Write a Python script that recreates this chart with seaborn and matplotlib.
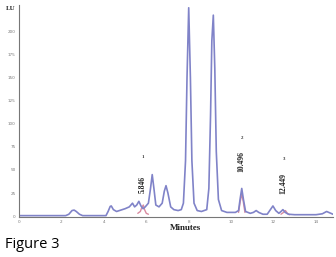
import matplotlib
matplotlib.use('Agg')
import matplotlib.pyplot as plt
import numpy as np
import pandas as pd
import seaborn as sns

# blue trace (sample)
blue_t = [0.0, 0.5, 1.0, 1.5, 2.0, 2.2, 2.35, 2.5, 2.6, 2.7, 2.85, 3.0, 3.5, 4.1,
          4.2, 4.3, 4.35, 4.45, 4.6, 4.8, 5.0, 5.2, 5.35, 5.45, 5.55, 5.65, 5.75,
          5.85, 5.95, 6.1, 6.2, 6.28, 6.36, 6.45, 6.6, 6.75, 6.85, 6.93, 7.02,
          7.15, 7.3, 7.5, 7.65, 7.75, 7.85, 7.92, 8.0, 8.08, 8.15, 8.25, 8.4, 8.6,
          8.85, 8.95, 9.03, 9.09, 9.16, 9.23, 9.3, 9.4, 9.55, 9.8, 10.2, 10.35,
          10.42, 10.5, 10.58, 10.68, 10.9, 11.05, 11.18, 11.3, 11.5, 11.7, 11.85,
          11.97, 12.1, 12.25, 12.35, 12.44, 12.55, 12.7, 13.0, 13.5, 14.0, 14.3,
          14.5, 14.7, 14.8]
blue_y = [0.5, 0.5, 0.5, 0.5, 0.5, 0.5, 2, 6, 6.5, 5, 2, 0.5, 0.5, 0.5,
          5, 10.5, 11, 7, 5, 6.5, 8, 10, 14, 10, 12, 16, 11,
          8, 10, 14, 30, 45, 30, 12, 10, 14, 27, 33, 25,
          10, 7, 6, 7, 14, 60, 150, 226, 150, 60, 14, 6, 5,
          7, 30, 110, 190, 218, 160, 70, 18, 6, 4, 4, 6,
          18, 30, 18, 5, 3, 4, 6, 4, 2, 2, 7,
          11, 6, 3, 5, 7, 4, 2, 1.5, 1.5, 1.5, 2.5,
          5, 3, 2]

# red trace (standard), only where it shows
red_seg = [1, 1, 1, 1, 1, 1, 1, 2, 2, 2, 2, 2, 3, 3, 3, 3, 3]
red_t = [5.6, 5.72, 5.8, 5.86, 5.92, 6.0, 6.1, 10.35, 10.43, 10.5, 10.57,
         10.65, 12.35, 12.47, 12.56, 12.65, 12.75]
red_y = [3, 5, 10, 12, 7, 3, 2, 4, 16, 24, 16, 4, 2, 4, 6, 3, 1.5]

y_ticks = [0, 25, 50, 75, 100, 125, 150, 175, 200]
x_ticks = [0, 2, 4, 6, 8, 10, 12, 14]

peak_ids = ['1', '2', '3']
peak_rt = ['5.846', '10.496', '12.449']
peak_x = [5.85, 10.5, 12.47]
id_y = [64, 85, 62]
rt_y = [34, 59, 35]

sns.set_style('white')
fig = plt.figure(figsize=(3.36, 2.57), dpi=100)
ax = fig.add_axes([0.0565, 0.1556, 0.9345, 0.825])

blue = pd.DataFrame({'t': blue_t, 'y': blue_y})
red = pd.DataFrame({'t': red_t, 'y': red_y, 'seg': red_seg})
sns.lineplot(data=red, x='t', y='y', units='seg', estimator=None, ax=ax,
             color='#d98aa0', lw=1.0, sort=False)
sns.lineplot(data=blue, x='t', y='y', ax=ax, color='#8083c8', lw=1.2, sort=False)

ax.set_xlim(0, 14.8)
ax.set_ylim(-1, 229)
ax.set_xticks(x_ticks)
ax.set_yticks(y_ticks)
ax.set_xticks(np.arange(0, 14.81, 0.4), minor=True)
ax.set_yticks(np.arange(0, 229, 5), minor=True)
ax.tick_params(axis='both', which='major', labelsize=3, colors='#777777',
               direction='inout', length=3, width=0.6, pad=1)
ax.tick_params(axis='both', which='minor', colors='#777777',
               direction='inout', length=2, width=0.5)
for s in ['top', 'right']:
    ax.spines[s].set_visible(False)
for s in ['left', 'bottom']:
    ax.spines[s].set_color('#777777')
    ax.spines[s].set_linewidth(0.8)
ax.set_xlabel('')
ax.set_ylabel('')

serif = ['Liberation Serif', 'DejaVu Serif']
for x, pid, rt, yi, yr in zip(peak_x, peak_ids, peak_rt, id_y, rt_y):
    ax.text(x, yi, pid, fontsize=3.5, fontweight='bold', family=serif,
            ha='center', va='center', color='#333333')
    ax.text(x, yr, rt, fontsize=5.5, fontweight='bold', family=serif,
            ha='center', va='center', rotation=90, color='#222222')

fig.text(185 / 336, 1 - 228 / 257, 'Minutes', fontsize=6.5, fontweight='bold',
         family=serif, ha='center', va='center', color='#222222')
fig.text(11 / 336, 1 - 8 / 257, 'LU', fontsize=5, fontweight='bold',
         family=serif, ha='center', va='center', color='#222222')
fig.text(5 / 336, 1 - 244 / 257, 'Figure 3', fontsize=10.5,
         family=['Open Sans', 'DejaVu Sans'], ha='left', va='center', color='black')

fig.savefig('out.png', dpi=100)
